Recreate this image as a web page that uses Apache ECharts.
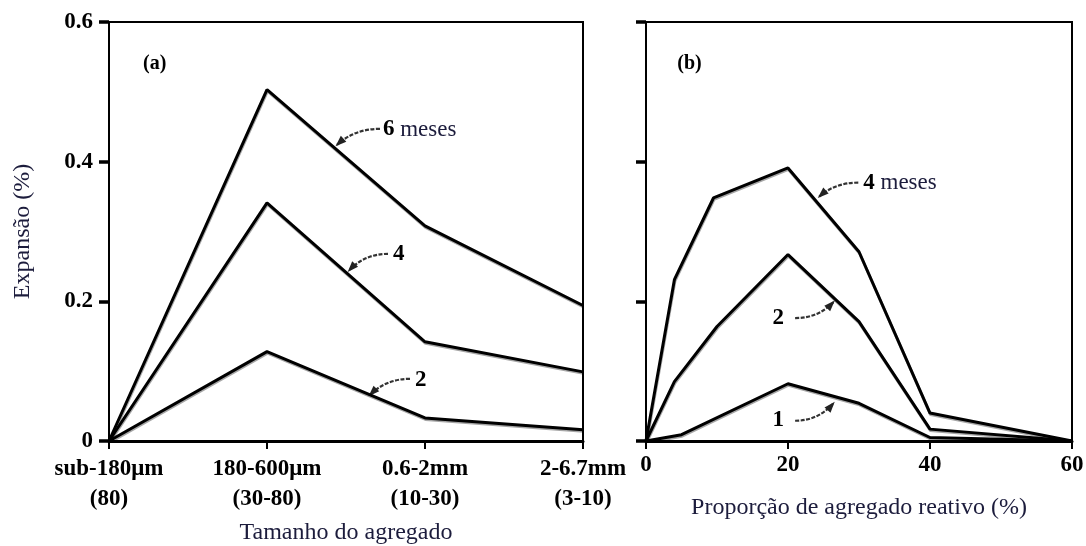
<!DOCTYPE html>
<html><head><meta charset="utf-8">
<script src="https://cdn.jsdelivr.net/npm/echarts@6/dist/echarts.min.js"></script>
<style>html,body{margin:0;background:#fff}#c{width:1086px;height:546px}</style>
</head><body><div id="c"></div>
<script>
// ---- data ----
const sizeCategories = ['sub-180μm\n(80)', '180-600μm\n(30-80)', '0.6-2mm\n(10-30)', '2-6.7mm\n(3-10)'];
const sizeMonths6 = [0, 0.503, 0.308, 0.194];
const sizeMonths4 = [0, 0.341, 0.142, 0.099];
const sizeMonths2 = [0, 0.128, 0.033, 0.016];

const propX4 = [0, 4, 9.5, 20, 30, 40, 60];
const propMonths4 = [0, 0.231, 0.348, 0.391, 0.271, 0.040, 0];
const propX2 = [0, 4, 10, 20, 30, 40, 60];
const propMonths2 = [0, 0.085, 0.164, 0.267, 0.171, 0.017, 0];
const propX1 = [0, 5, 20, 30, 40, 60];
const propMonths1 = [0, 0.009, 0.082, 0.054, 0.005, 0];

const yTickLabels = ['0', '0.2', '0.4', '0.6'];
const propTickLabels = ['0', '20', '40', '60'];

// annotations in data units
const annotations = [
  {grid: 0, num: '6', word: ' meses', at: [1.734, 0.446], from: [1.715, 0.447], to: [1.443, 0.424]},
  {grid: 0, num: '4', word: '', at: [1.797, 0.267], from: [1.766, 0.268], to: [1.519, 0.244]},
  {grid: 0, num: '2', word: '', at: [1.937, 0.0875], from: [1.905, 0.089], to: [1.652, 0.066]},
  {grid: 1, num: '4', word: ' meses', at: [30.6, 0.370], from: [29.9, 0.370], to: [24.4, 0.350]},
  {grid: 1, num: '2', word: '', at: [17.8, 0.176], from: [21.0, 0.176], to: [26.4, 0.199]},
  {grid: 1, num: '1', word: '', at: [17.8, 0.030], from: [21.0, 0.029], to: [26.4, 0.054]}
];
const panelLabels = [
  {grid: 0, text: '(a)', at: [0.215, 0.54]},
  {grid: 1, text: '(b)', at: [4.4, 0.54]}
];

// ---- chart ----
const serif = 'Liberation Serif';
const titleColor = '#1c1c3c';
const chart = echarts.init(document.getElementById('c'));

function pairs(xs, ys) { return xs.map((x, i) => [x, ys[i]]); }
const lineStyle = {color: '#000', width: 3, shadowColor: 'rgba(0,0,0,0.35)', shadowOffsetY: 1.5, shadowOffsetX: 0.5, shadowBlur: 0};
function lineSeries(idx, data) {
  return {type: 'line', xAxisIndex: idx, yAxisIndex: idx, data: data, symbol: 'none',
    lineStyle: lineStyle, silent: true, animation: false};
}

const yAxisBase = {
  type: 'value', min: 0, max: 0.6, interval: 0.2,
  splitLine: {show: false},
  axisLine: {show: true, lineStyle: {color: '#000', width: 1.5}},
  axisTick: {show: true, length: 10, lineStyle: {color: '#000', width: 3.5}}
};
const xAxisBase = {
  type: 'value', splitLine: {show: false},
  axisLine: {show: true, lineStyle: {color: '#000', width: 3}},
  axisTick: {show: true, length: 8, lineStyle: {color: '#000', width: 2}}
};

const option = {
  backgroundColor: '#fff',
  animation: false,
  grid: [
    {left: 109, right: 503, top: 22, bottom: 105, show: true, borderColor: '#000', borderWidth: 2,
      containLabel: false, outerBoundsMode: 'none'},
    {left: 646, right: 14, top: 22, bottom: 105, show: true, borderColor: '#000', borderWidth: 2,
      containLabel: false, outerBoundsMode: 'none'}
  ],
  xAxis: [
    Object.assign({}, xAxisBase, {
      gridIndex: 0, min: 0, max: sizeCategories.length - 1, interval: 1,
      axisLabel: {formatter: v => sizeCategories[v] || '', fontFamily: serif, fontWeight: 'bold',
        fontSize: 23, color: '#000', lineHeight: 30, margin: 13},
      name: 'Tamanho do agregado', nameLocation: 'middle', nameGap: 80,
      nameTextStyle: {fontFamily: serif, fontSize: 24, color: titleColor}
    }),
    Object.assign({}, xAxisBase, {
      gridIndex: 1, min: 0, max: 60, interval: 20,
      axisLabel: {formatter: v => propTickLabels[v / 20] || '', fontFamily: serif, fontWeight: 'bold',
        fontSize: 23, color: '#000', margin: 13},
      name: 'Proporção de agregado reativo (%)', nameLocation: 'middle', nameGap: 55,
      nameTextStyle: {fontFamily: serif, fontSize: 24, color: titleColor}
    })
  ],
  yAxis: [
    Object.assign({}, yAxisBase, {
      gridIndex: 0,
      axisLabel: {formatter: v => yTickLabels[Math.round(v / 0.2)], fontFamily: serif, fontWeight: 'bold',
        fontSize: 23, color: '#000', margin: 16},
      name: 'Expansão (%)', nameLocation: 'middle', nameGap: 74,
      nameTextStyle: {fontFamily: serif, fontSize: 24, color: titleColor}
    }),
    Object.assign({}, yAxisBase, {gridIndex: 1, axisLabel: {show: false}})
  ],
  series: [
    lineSeries(0, sizeMonths6.map((v, i) => [i, v])),
    lineSeries(0, sizeMonths4.map((v, i) => [i, v])),
    lineSeries(0, sizeMonths2.map((v, i) => [i, v])),
    lineSeries(1, pairs(propX4, propMonths4)),
    lineSeries(1, pairs(propX2, propMonths2)),
    lineSeries(1, pairs(propX1, propMonths1))
  ]
};
chart.setOption(option);

// ---- annotations placed through the axes ----
const graphics = [];
function px(g, p) { return chart.convertToPixel({gridIndex: g}, p); }
annotations.forEach(a => {
  const t = px(a.grid, a.at), f = px(a.grid, a.from), e = px(a.grid, a.to);
  graphics.push({
    type: 'text', x: t[0], y: t[1], silent: true,
    style: {
      text: '{n|' + a.num + '}' + (a.word ? '{w|' + a.word + '}' : ''),
      align: 'left', verticalAlign: 'middle',
      rich: {
        n: {fontFamily: serif, fontWeight: 'bold', fontSize: 23, fill: '#000'},
        w: {fontFamily: serif, fontSize: 23, fill: titleColor}
      }
    }
  });
  const cp = [f[0] + 0.6 * (e[0] - f[0]), f[1]];
  graphics.push({
    type: 'bezierCurve', silent: true,
    shape: {x1: f[0], y1: f[1], x2: e[0], y2: e[1], cpx1: cp[0], cpy1: cp[1]},
    style: {stroke: '#333', lineWidth: 2.2, lineDash: [4, 1.5], fill: null}
  });
  const dx = e[0] - cp[0], dy = e[1] - cp[1], L = Math.hypot(dx, dy) || 1;
  const ux = dx / L, uy = dy / L, nx = -uy, ny = ux;
  const hl = 9, hw = 4;
  const bx = e[0] - ux * hl, by = e[1] - uy * hl;
  graphics.push({
    type: 'polygon', silent: true,
    shape: {points: [[e[0] + ux * 2, e[1] + uy * 2], [bx + nx * hw, by + ny * hw], [bx - nx * hw, by - ny * hw]]},
    style: {fill: '#222'}
  });
});
panelLabels.forEach(p => {
  const t = px(p.grid, p.at);
  graphics.push({type: 'text', x: t[0], y: t[1], silent: true,
    style: {text: p.text, fontFamily: serif, fontWeight: 'bold', fontSize: 20, fill: '#000',
      align: 'left', verticalAlign: 'middle'}});
});
chart.setOption({graphic: graphics});
</script>
</body></html>
